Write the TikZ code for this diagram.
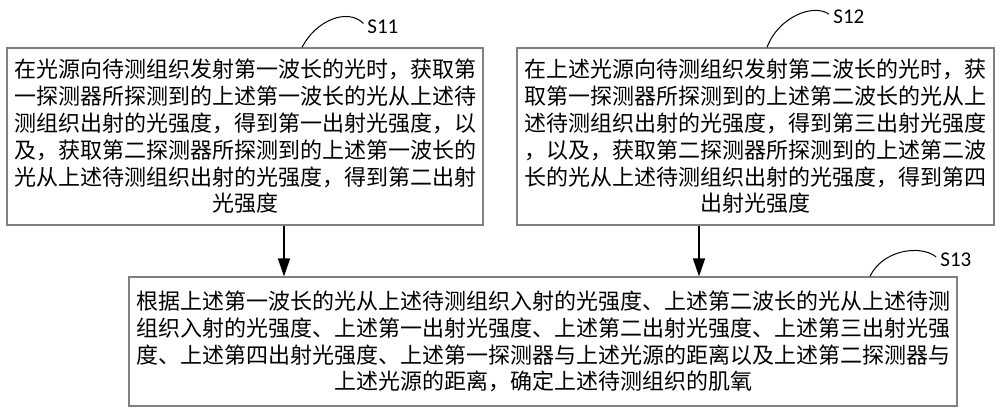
\documentclass[tikz,border=0pt]{standalone}
\usepackage{fontspec}
\usepackage{tikz}
\usetikzlibrary{arrows.meta, positioning, calc}
\newfontfamily\cjk{Noto Sans CJK SC}
\newfontfamily\steplabel{Carlito}

\begin{document}
\begin{tikzpicture}[x=0.5pt,y=-0.5pt,
    stepbox/.style={rectangle,draw=black!50,line width=0.6pt,inner sep=0pt,align=center,
        font=\cjk\fontsize{11pt}{13.4pt}\selectfont},
    flow/.style={-{Triangle[length=9pt,width=6pt]},line width=0.75pt},
    tag/.style={anchor=west,inner sep=0pt,font=\steplabel\fontsize{10.5pt}{12pt}\selectfont},
    lead/.style={line width=0.5pt,shorten >=2.5pt}]
    \useasboundingbox (0,0) rectangle (1000,413);

    % Passo S11
    \node[stepbox,minimum width=238pt,minimum height=88.5pt] (s11) at (245,136.5) {
        在光源向待测组织发射第一波长的光时，获取第\\
        一探测器所探测到的上述第一波长的光从上述待\\
        测组织出射的光强度，得到第一出射光强度，以\\
        及，获取第二探测器所探测到的上述第一波长的\\
        光从上述待测组织出射的光强度，得到第二出射\\
        光强度
    };
    \node[tag] (t11) at (367,27) {S11};
    \coordinate (c11) at (302,0);
    \draw[lead] (s11.north -| c11) .. controls +(13,-26) and +(-20,-20) .. (t11.west);

    % Passo S12
    \node[stepbox,minimum width=238.5pt,minimum height=88.5pt] (s12) at (755.5,136.5) {
        在上述光源向待测组织发射第二波长的光时，获\\
        取第一探测器所探测到的上述第二波长的光从上\\
        述待测组织出射的光强度，得到第三出射光强度\\
        ，以及，获取第二探测器所探测到的上述第二波\\
        长的光从上述待测组织出射的光强度，得到第四\\
        出射光强度
    };
    \node[tag] (t12) at (833,17) {S12};
    \coordinate (c12) at (767,0);
    \draw[lead] (s12.north -| c12) .. controls +(11,-30) and +(-20,-14) .. (t12.west);

    % Passo S13
    \node[stepbox,minimum width=414pt,minimum height=64.5pt] (s13) at (543,341.5) {
        根据上述第一波长的光从上述待测组织入射的光强度、上述第二波长的光从上述待测\\
        组织入射的光强度、上述第一出射光强度、上述第二出射光强度、上述第三出射光强\\
        度、上述第四出射光强度、上述第一探测器与上述光源的距离以及上述第二探测器与\\
        上述光源的距离，确定上述待测组织的肌氧
    };
    \node[tag] (t13) at (940,260) {S13};
    \coordinate (c13) at (870,0);
    \draw[lead] (s13.north -| c13) .. controls +(12,-26) and +(-20,-16) .. (t13.west);

    % frecce
    \coordinate (a1) at (284,0);
    \coordinate (a2) at (699,0);
    \draw[flow] (s11.south -| a1) -- (s13.north -| a1);
    \draw[flow] (s12.south -| a2) -- (s13.north -| a2);
\end{tikzpicture}
\end{document}
